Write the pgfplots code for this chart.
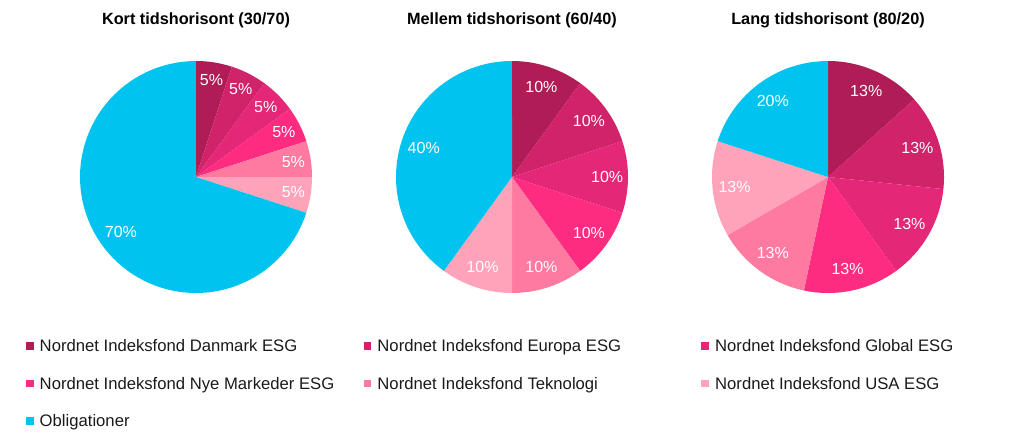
\documentclass[border=0pt]{standalone}
\usepackage{pgfplots}
\pgfplotsset{compat=1.18}
\usepackage{fontspec}
\setmainfont{Liberation Sans}
\definecolor{cDan}{RGB}{176,28,85}
\definecolor{cEur}{RGB}{208,35,105}
\definecolor{cGlo}{RGB}{229,39,119}
\definecolor{cNye}{RGB}{254,44,128}
\definecolor{cTek}{RGB}{255,122,160}
\definecolor{cUSA}{RGB}{255,163,187}
\definecolor{cObl}{RGB}{0,196,239}
\definecolor{legtext}{RGB}{26,26,26}
% slice: start percent, end percent, colour
\newcommand{\pieslice}[3]{%
  \addplot[fill=#3, draw=none, domain=#1*3.6:#2*3.6, samples=80]
    ({sin(x)},{cos(x)}) -- (axis cs:0,0) -- cycle;}
% label: mid angle (deg), radius fraction, text
\newcommand{\pielabel}[3]{%
  \node[pielbl] at (axis cs:{#2*sin(#1)},{#2*cos(#1)}) {#3};}
\tikzset{pielbl/.style={text=white, font=\fontsize{12}{14}\selectfont, inner sep=0pt}}
\pgfplotsset{pie/.style={hide axis, scale only axis, width=174pt, height=174pt,
  xmin=-1, xmax=1, ymin=-1, ymax=1, anchor=origin, clip=false,
  title style={at={(0.5,1.125)}, anchor=base, font=\bfseries\fontsize{12.2}{14}\selectfont, inner sep=0pt}}}
\begin{document}
\begin{tikzpicture}
\path[use as bounding box] (0pt,0pt) rectangle (768pt,-332.25pt);
% ---------- Kort ----------
\begin{axis}[pie, at={(147pt,-132.75pt)}, title={Kort tidshorisont (30/70)},
  legend image code/.code={\fill[#1] (0pt,1.2pt) rectangle (5.8pt,7pt); \path (0pt,0pt) (8.3pt,0pt);},
  legend columns=3,
  legend style={draw=none, fill=none, at={(-0.2328,-0.190)}, anchor=north west,
    inner sep=0pt, outer sep=0pt, column sep=0pt, row sep=13.5pt,
    font=\fontsize{12.5}{14}\selectfont, text=legtext,
    cells={anchor=base west, inner sep=0pt, text height=9pt, text depth=3pt}},
  legend entries={
    \makebox[241pt][l]{Nordnet Indeksfond Danmark ESG},
    \makebox[241pt][l]{Nordnet Indeksfond Europa ESG},
    Nordnet Indeksfond Global ESG,
    \makebox[241pt][l]{Nordnet Indeksfond Nye Markeder ESG},
    \makebox[241pt][l]{Nordnet Indeksfond Teknologi},
    Nordnet Indeksfond USA ESG,
    Obligationer}]
\pieslice{0}{5}{cDan}
\pieslice{5}{10}{cEur}
\pieslice{10}{15}{cGlo}
\pieslice{15}{20}{cNye}
\pieslice{20}{25}{cTek}
\pieslice{25}{30}{cUSA}
\pieslice{30}{100}{cObl}
\pielabel{9}{0.85}{5\%}
\pielabel{27}{0.85}{5\%}
\pielabel{45}{0.85}{5\%}
\pielabel{63}{0.85}{5\%}
\pielabel{81}{0.85}{5\%}
\pielabel{99}{0.85}{5\%}
\pielabel{234}{0.80}{70\%}
\end{axis}
% ---------- Mellem ----------
\begin{axis}[pie, at={(384pt,-132.75pt)}, title={Mellem tidshorisont (60/40)}]
\pieslice{0}{10}{cDan}
\pieslice{10}{20}{cEur}
\pieslice{20}{30}{cGlo}
\pieslice{30}{40}{cNye}
\pieslice{40}{50}{cTek}
\pieslice{50}{60}{cUSA}
\pieslice{60}{100}{cObl}
\pielabel{18}{0.82}{10\%}
\pielabel{54}{0.82}{10\%}
\pielabel{90}{0.82}{10\%}
\pielabel{126}{0.82}{10\%}
\pielabel{162}{0.82}{10\%}
\pielabel{198}{0.82}{10\%}
\pielabel{288}{0.80}{40\%}
\end{axis}
% ---------- Lang ----------
\begin{axis}[pie, at={(621pt,-132.75pt)}, title={Lang tidshorisont (80/20)}]
\pieslice{0}{13.333}{cDan}
\pieslice{13.333}{26.667}{cEur}
\pieslice{26.667}{40}{cGlo}
\pieslice{40}{53.333}{cNye}
\pieslice{53.333}{66.667}{cTek}
\pieslice{66.667}{80}{cUSA}
\pieslice{80}{100}{cObl}
\pielabel{24}{0.81}{13\%}
\pielabel{72}{0.81}{13\%}
\pielabel{120}{0.81}{13\%}
\pielabel{168}{0.81}{13\%}
\pielabel{216}{0.81}{13\%}
\pielabel{264}{0.81}{13\%}
\pielabel{324}{0.81}{20\%}
\end{axis}
\end{tikzpicture}
\end{document}
